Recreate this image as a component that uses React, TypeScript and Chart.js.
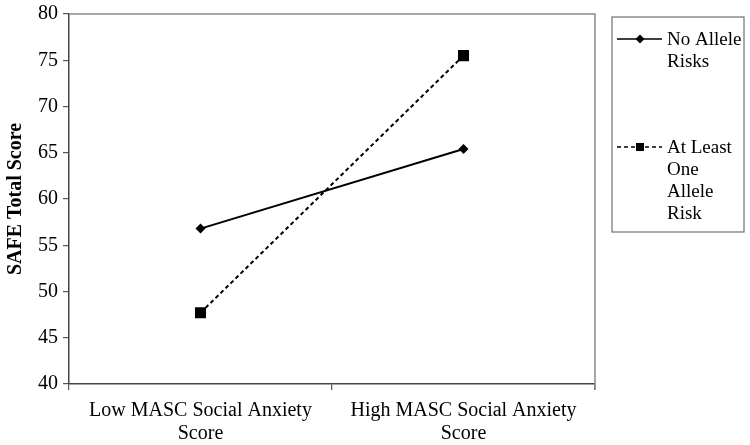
import React, { useEffect, useRef } from "react";
import { Chart, registerables } from "chart.js";

Chart.register(...registerables);

const categories: string[][] = [
  ["Low MASC Social Anxiety", "Score"],
  ["High MASC Social Anxiety", "Score"],
];
const noAlleleRisks: number[] = [56.8, 65.4];
const atLeastOneAlleleRisk: number[] = [47.7, 75.5];
const legendNoAllele: string[] = ["No Allele", "Risks"];
const legendAtLeastOne: string[] = ["At Least", "One", "Allele", "Risk"];
const yMin = 40;
const yMax = 80;
const yStep = 5;
const yTitle = "SAFE Total Score";

const FONT = "'Liberation Serif', 'Times New Roman', serif";

const boxPlugin = {
  id: "boxAndLegend",
  afterDraw(chart: any) {
    const { ctx, chartArea } = chart;
    ctx.save();
    // plot frame top and right
    ctx.strokeStyle = "#8a8a8a";
    ctx.lineWidth = 1.5;
    ctx.beginPath();
    ctx.moveTo(chartArea.left, chartArea.top);
    ctx.lineTo(chartArea.right, chartArea.top);
    ctx.lineTo(chartArea.right, chartArea.bottom + 6);
    ctx.stroke();

    // legend box
    const lx = 612, ly = 17, lw = 132, lh = 215;
    ctx.strokeStyle = "#707070";
    ctx.lineWidth = 1.2;
    ctx.strokeRect(lx, ly, lw, lh);

    const items = [
      { lines: legendNoAllele, ds: chart.data.datasets[0], y: 40 },
      { lines: legendAtLeastOne, ds: chart.data.datasets[1], y: 148 },
    ];
    ctx.font = `19px ${FONT}`;
    ctx.fillStyle = "#000";
    ctx.textBaseline = "middle";
    ctx.textAlign = "left";
    for (const it of items) {
      const sy = it.y - 1;
      ctx.strokeStyle = "#000";
      ctx.lineWidth = 1.6;
      ctx.setLineDash(it.ds.borderDash || []);
      ctx.beginPath();
      ctx.moveTo(617, sy);
      ctx.lineTo(662, sy);
      ctx.stroke();
      ctx.setLineDash([]);
      ctx.fillStyle = "#000";
      ctx.beginPath();
      if (it.ds.pointStyle === "rect") {
        ctx.rect(636, sy - 4, 8, 8);
      } else {
        ctx.moveTo(640, sy - 4.5);
        ctx.lineTo(644.5, sy);
        ctx.lineTo(640, sy + 4.5);
        ctx.lineTo(635.5, sy);
        ctx.closePath();
      }
      ctx.fill();
      it.lines.forEach((t: string, i: number) => {
        ctx.fillText(t, 667, it.y + i * 22);
      });
    }
    ctx.restore();
  },
};

export default function App() {
  const ref = useRef<HTMLCanvasElement | null>(null);
  useEffect(() => {
    document.body.style.margin = "0";
    const canvas = ref.current!;
    const chart = new Chart(canvas, {
      type: "line",
      data: {
        labels: categories,
        datasets: [
          {
            label: legendNoAllele.join(" "),
            data: noAlleleRisks,
            borderColor: "#000",
            backgroundColor: "#000",
            borderWidth: 2,
            pointStyle: "rectRot",
            pointRadius: 5,
            pointBorderWidth: 0,
          },
          {
            label: legendAtLeastOne.join(" "),
            data: atLeastOneAlleleRisk,
            borderColor: "#000",
            backgroundColor: "#000",
            borderWidth: 2,
            borderDash: [4, 3],
            pointStyle: "rect",
            pointRadius: 7.8,
            pointBorderWidth: 0,
          },
        ],
      },
      options: {
        animation: false,
        responsive: false,
        layout: { padding: { top: 14, right: 155, left: 0, bottom: 0 } },
        plugins: {
          legend: { display: false },
          tooltip: { enabled: false },
        },
        scales: {
          x: {
            offset: true,
            grid: {
              offset: true,
              drawOnChartArea: false,
              drawTicks: true,
              tickLength: 6,
              color: "#555",
              lineWidth: 1.2,
            },
            border: { color: "#444", width: 1.5 },
            ticks: {
              color: "#000",
              font: { family: FONT, size: 20, lineHeight: 1.15 },
              padding: 9,
              maxRotation: 0,
              autoSkip: false,
            },
            afterFit(scale: any) {
              scale.height = 61;
              scale.paddingLeft = 0;
              scale.paddingRight = 0;
            },
          },
          y: {
            min: yMin,
            max: yMax,
            ticks: {
              stepSize: yStep,
              color: "#000",
              font: { family: FONT, size: 20 },
              padding: 5,
            },
            grid: {
              drawOnChartArea: false,
              drawTicks: true,
              tickLength: 6,
              color: "#555",
              lineWidth: 1.2,
            },
            border: { color: "#444", width: 1.5 },
            title: {
              display: true,
              text: yTitle,
              color: "#000",
              font: { family: FONT, size: 20, weight: "bold" },
              padding: { top: 4, bottom: 4 },
            },
            afterFit(scale: any) {
              scale.width = 69;
              scale.paddingTop = 0;
              scale.paddingBottom = 0;
            },
          },
        },
      },
      plugins: [boxPlugin],
    });
    return () => chart.destroy();
  }, []);
  return (
    <div style={{ width: 750, height: 445, background: "#fff" }}>
      <canvas ref={ref} width={750} height={445} style={{ display: "block" }} />
    </div>
  );
}
